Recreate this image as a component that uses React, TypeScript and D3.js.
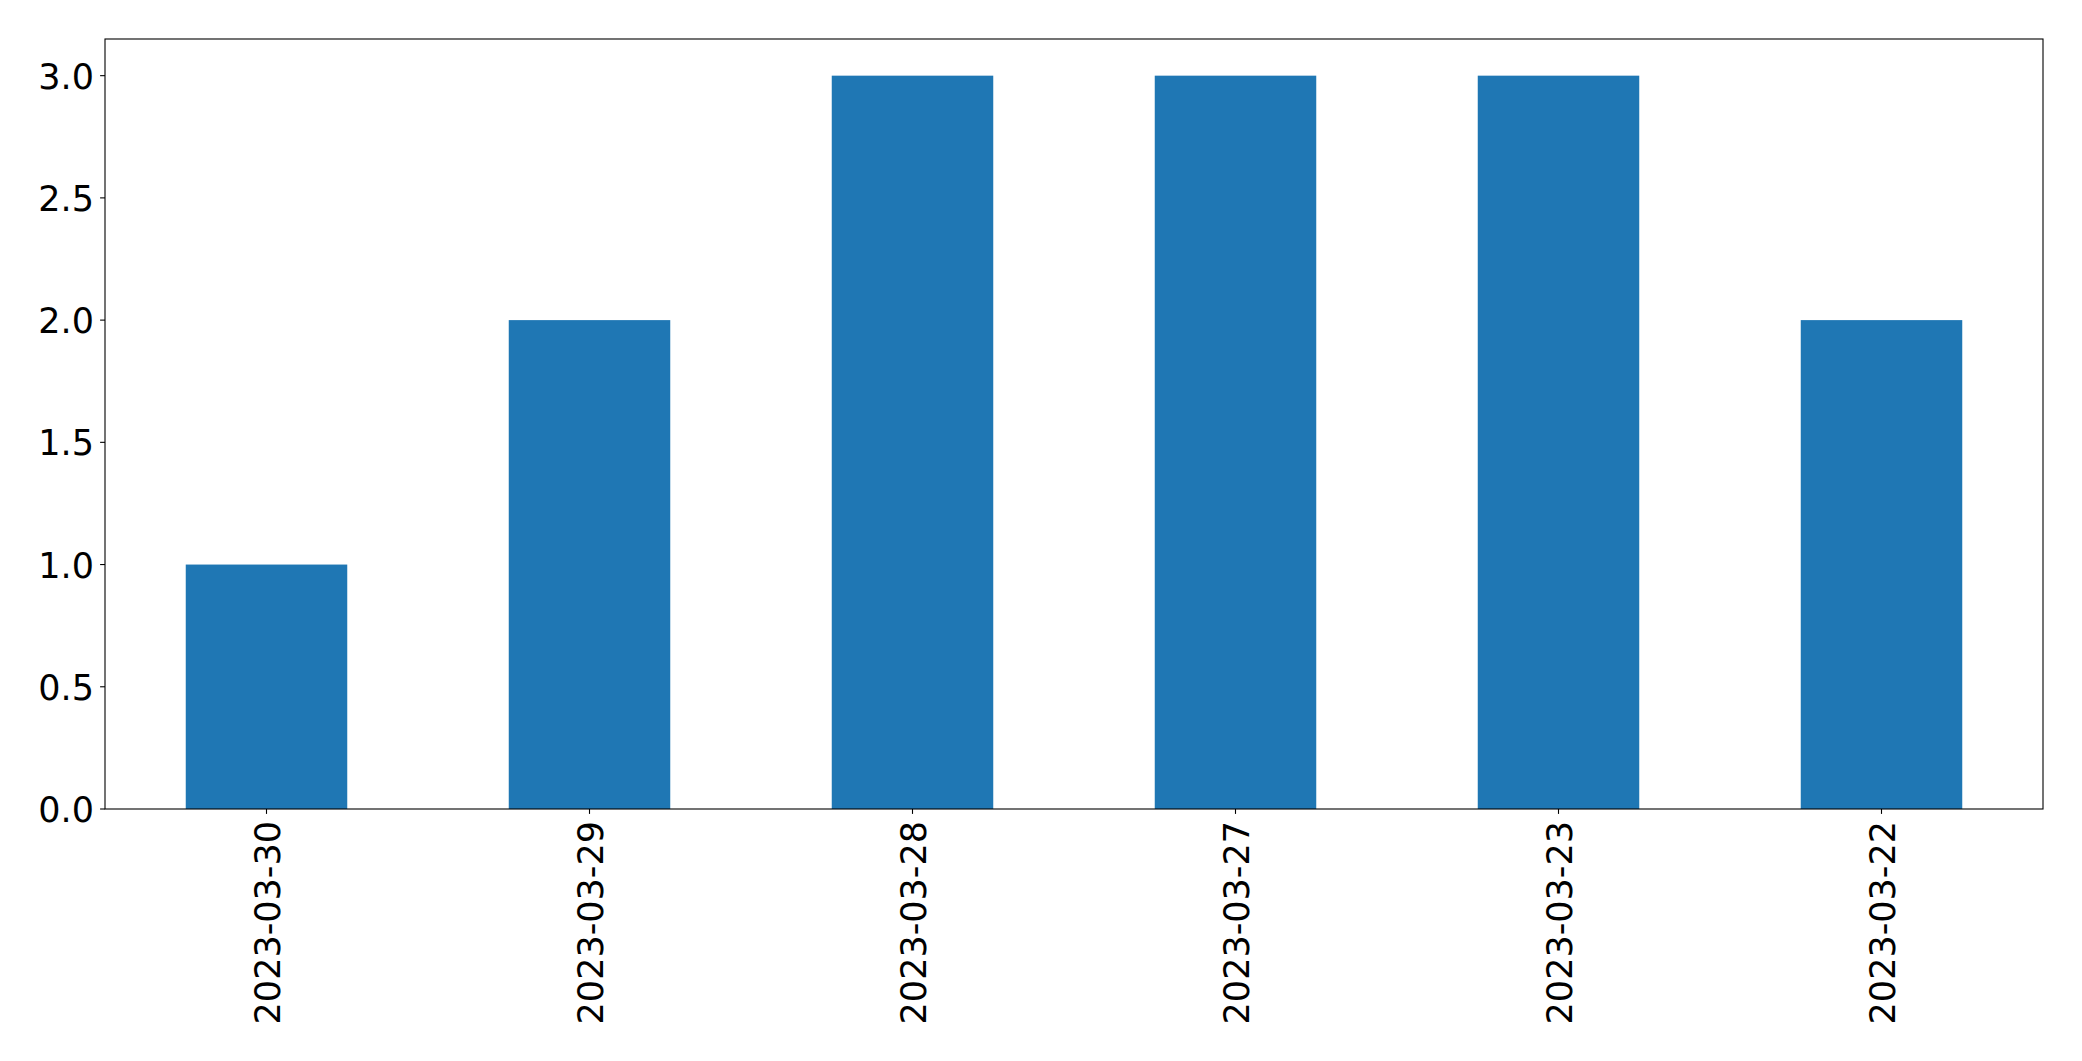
import React, { useEffect, useRef } from "react";
import * as d3 from "d3";

const categories = [
  "2023-03-30",
  "2023-03-29",
  "2023-03-28",
  "2023-03-27",
  "2023-03-23",
  "2023-03-22",
];
const counts = [1, 2, 3, 3, 3, 2];
const yTicks = [0, 0.5, 1, 1.5, 2, 2.5, 3];

const W = 2082;
const H = 1061;
const margin = { left: 105, right: 39, top: 39, bottom: 252 };
const FONT = "DejaVu Sans";
const FS = 35;

const App = () => {
  const svgRef = useRef<SVGSVGElement>(null);

  useEffect(() => {
    document.body.style.margin = "0";
    const svg = d3.select(svgRef.current);
    svg.selectAll("*").remove();

    const x0 = margin.left;
    const x1 = W - margin.right;
    const y0 = H - margin.bottom;
    const y1 = margin.top;

    // matplotlib-style: positions 0..n-1, xlim -0.5..n-0.5, bar width 0.5
    const x = d3
      .scaleLinear()
      .domain([-0.5, categories.length - 0.5])
      .range([x0, x1]);
    const y = d3
      .scaleLinear()
      .domain([0, d3.max(counts)! * 1.05])
      .range([y0, y1]);

    const g = svg.append("g");

    g.selectAll("rect.bar")
      .data(counts)
      .enter()
      .append("rect")
      .attr("class", "bar")
      .attr("x", (d, i) => x(i - 0.25))
      .attr("width", (d, i) => x(i + 0.25) - x(i - 0.25))
      .attr("y", d => y(d))
      .attr("height", d => y(0) - y(d))
      .attr("fill", "#1f77b4");

    // frame
    g.append("rect")
      .attr("x", x0)
      .attr("y", y1)
      .attr("width", x1 - x0)
      .attr("height", y0 - y1)
      .attr("fill", "none")
      .attr("stroke", "black")
      .attr("stroke-width", 1.1);

    // y ticks
    const yt = g.selectAll("g.ytick").data(yTicks).enter().append("g");
    yt.append("line")
      .attr("x1", x0 - 4.9)
      .attr("x2", x0)
      .attr("y1", d => y(d))
      .attr("y2", d => y(d))
      .attr("stroke", "black")
      .attr("stroke-width", 1.1);
    yt.append("text")
      .attr("x", x0 - 11)
      .attr("y", d => y(d) + 13)
      .attr("text-anchor", "end")
      .attr("font-family", FONT)
      .attr("font-size", FS)
      .attr("fill", "black")
      .text(d => d3.format(".1f")(d));

    // x ticks
    const xt = g.selectAll("g.xtick").data(categories).enter().append("g");
    xt.append("line")
      .attr("x1", (d, i) => x(i))
      .attr("x2", (d, i) => x(i))
      .attr("y1", y0)
      .attr("y2", y0 + 4.9)
      .attr("stroke", "black")
      .attr("stroke-width", 1.1);
    xt.append("text")
      .attr(
        "transform",
        (d, i) => `translate(${x(i) + 13},${y0 + 12}) rotate(-90)`
      )
      .attr("text-anchor", "end")
      .attr("font-family", FONT)
      .attr("font-size", FS)
      .attr("fill", "black")
      .text(d => d);
  }, []);

  return (
    <svg
      ref={svgRef}
      width={W}
      height={H}
      style={{ position: "absolute", left: 0, top: 0, background: "white" }}
    />
  );
};

export default App;
